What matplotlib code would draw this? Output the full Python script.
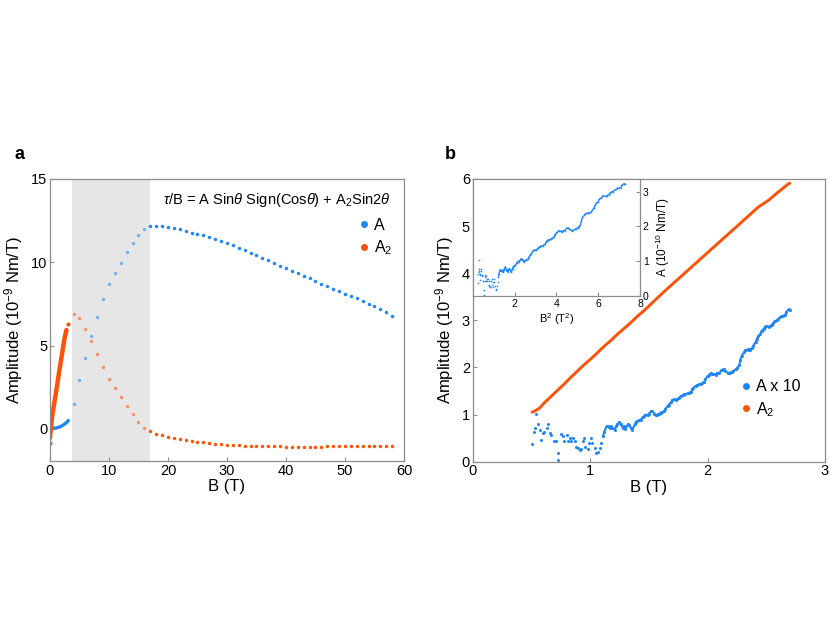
import numpy as np
import matplotlib.pyplot as plt
from matplotlib.lines import Line2D

plt.rcParams['font.family'] = ['Liberation Sans', 'DejaVu Sans']
plt.rcParams['mathtext.fontset'] = 'custom'
plt.rcParams['mathtext.rm'] = 'Liberation Sans'
plt.rcParams['mathtext.it'] = 'Liberation Sans:italic'

BLUE = '#1f87f5'
ORANGE = '#ff5208'
SPINE = '#8c8c8c'

# panel a: high field, one point per tesla
hf_B = np.arange(4, 59)
hf_A = [1.52, 2.92, 4.28, 5.58, 6.72, 7.80, 8.72, 9.38, 9.98, 10.60, 11.16, 11.66, 12.02,
        12.16, 12.20, 12.20, 12.14, 12.06, 11.97, 11.88, 11.78, 11.70, 11.64, 11.53, 11.41,
        11.28, 11.15, 11.01, 10.87, 10.72, 10.57, 10.42, 10.27, 10.11, 9.96, 9.80, 9.65,
        9.49, 9.34, 9.18, 9.03, 8.87, 8.72, 8.57, 8.42, 8.27, 8.12, 7.97, 7.83, 7.68, 7.52,
        7.35, 7.17, 6.99, 6.80]
hf_A2 = [6.92, 6.64, 6.02, 5.26, 4.52, 3.72, 3.02, 2.48, 1.94, 1.40, 0.92, 0.42, 0.06,
         -0.14, -0.28, -0.38, -0.47, -0.54, -0.61, -0.67, -0.72, -0.77, -0.81, -0.85, -0.88,
         -0.91, -0.94, -0.96, -0.98, -1.00, -1.01, -1.02, -1.03, -1.04, -1.05, -1.05, -1.06,
         -1.06, -1.06, -1.06, -1.06, -1.06, -1.06, -1.05, -1.05, -1.05, -1.04, -1.04, -1.03,
         -1.03, -1.02, -1.02, -1.01, -1.01, -1.00]

# panel a: low field (continuous sweep)
lf_B = [0.0, 0.02, 0.05, 0.1, 0.2, 0.3, 0.5, 0.8, 1.0, 1.2, 1.5, 1.8, 2.0, 2.2, 2.4, 2.6, 2.8, 3.0, 3.1]
lf_A = [1.15, 0.95, 0.24, 0.12, 0.07, 0.05, 0.05, 0.04, 0.05, 0.07, 0.10, 0.14, 0.18, 0.22,
        0.27, 0.32, 0.38, 0.45, 0.50]
lf2_B = [0.0, 0.1, 0.2, 0.3, 0.4, 0.5, 0.75, 1.0, 1.25, 1.5, 1.75, 2.0, 2.25, 2.5, 2.8]
lf2_A = [-0.56, -0.2, 0.15, 0.5, 0.8, 1.05, 1.6, 2.15, 2.7, 3.3, 3.85, 4.4, 4.95, 5.5, 5.94]
ex2_B = [0.0, 3.0]
ex2_A = [-0.85, 6.32]

# panel b
b_B = [0.505, 0.52, 0.53, 0.54, 0.56, 0.57, 0.585, 0.60, 0.61, 0.63, 0.64, 0.66, 0.67, 0.69,
       0.71, 0.725, 0.73, 0.755, 0.77, 0.78, 0.80, 0.81, 0.83, 0.84, 0.85, 0.87, 0.88, 0.895,
       0.91, 0.92, 0.94, 0.95, 0.96, 0.98, 0.99, 1.01, 1.02, 1.04, 1.05, 1.065, 1.08, 1.09,
       1.11, 1.12, 1.14, 1.15, 1.165, 1.18, 1.19, 1.21, 1.22, 1.23, 1.25, 1.26, 1.28, 1.29,
       1.30, 1.32, 1.33, 1.35, 1.36, 1.38, 1.39, 1.40, 1.42, 1.43, 1.45, 1.46, 1.47, 1.49,
       1.50, 1.52, 1.53, 1.545, 1.56, 1.57, 1.59, 1.60, 1.615, 1.63, 1.64, 1.66, 1.67, 1.69,
       1.70, 1.71, 1.73, 1.74, 1.76, 1.77, 1.79, 1.80, 1.81, 1.83, 1.84, 1.86, 1.87, 1.88,
       1.90, 1.91, 1.93, 1.94, 1.95, 1.97, 1.98, 2.00, 2.01, 2.03, 2.04, 2.05, 2.07, 2.08,
       2.10, 2.12, 2.14, 2.15, 2.17, 2.18, 2.19, 2.21, 2.22, 2.24, 2.25, 2.27, 2.28, 2.29,
       2.31, 2.32, 2.34, 2.35, 2.36, 2.38, 2.39, 2.41, 2.42, 2.43, 2.45, 2.46, 2.48, 2.49,
       2.50, 2.52, 2.53, 2.55, 2.56, 2.57, 2.59, 2.60, 2.62, 2.63, 2.645, 2.66, 2.67, 2.69, 2.70]
b_A10 = [0.37, 0.62, 0.71, 1.02, 0.79, 0.68, 0.46, 0.61, 0.64, 0.71, 0.79, 0.61, 0.57, 0.43,
         0.43, 0.18, 0.04, 0.59, 0.54, 0.43, 0.57, 0.43, 0.50, 0.43, 0.50, 0.43, 0.32, 0.29,
         0.25, 0.27, 0.43, 0.50, 0.32, 0.27, 0.39, 0.50, 0.39, 0.29, 0.18, 0.21, 0.29, 0.39,
         0.54, 0.64, 0.75, 0.75, 0.71, 0.75, 0.71, 0.68, 0.75, 0.79, 0.84, 0.79, 0.71, 0.75,
         0.69, 0.79, 0.77, 0.71, 0.68, 0.79, 0.84, 0.86, 0.88, 0.89, 0.95, 0.96, 1.00, 0.98,
         1.02, 1.07, 1.07, 1.02, 0.98, 1.00, 1.02, 1.04, 1.05, 1.07, 1.12, 1.18, 1.21, 1.26,
         1.31, 1.32, 1.31, 1.32, 1.36, 1.39, 1.41, 1.43, 1.43, 1.45, 1.46, 1.48, 1.54, 1.57,
         1.61, 1.62, 1.64, 1.64, 1.66, 1.69, 1.75, 1.81, 1.84, 1.88, 1.87, 1.86, 1.85, 1.88,
         1.88, 1.95, 1.96, 1.92, 1.89, 1.88, 1.89, 1.91, 1.93, 1.96, 1.98, 2.05, 2.16, 2.25,
         2.32, 2.36, 2.38, 2.39, 2.38, 2.41, 2.46, 2.54, 2.61, 2.66, 2.71, 2.78, 2.82, 2.86,
         2.88, 2.86, 2.88, 2.91, 2.95, 2.98, 3.00, 3.03, 3.07, 3.09, 3.10, 3.11, 3.18, 3.23, 3.21]
b2_B = [0.505, 0.54, 0.57, 0.61, 0.67, 0.725, 0.78, 0.84, 0.895, 0.95, 1.01, 1.065, 1.12,
        1.18, 1.23, 1.29, 1.35, 1.40, 1.46, 1.52, 1.57, 1.67, 1.76, 1.84, 1.93, 2.01, 2.10,
        2.18, 2.27, 2.35, 2.43, 2.52, 2.60, 2.69, 2.70]
b2_A = [1.05, 1.09, 1.14, 1.25, 1.39, 1.52, 1.65, 1.80, 1.93, 2.06, 2.19, 2.32, 2.45, 2.58,
        2.70, 2.83, 2.96, 3.08, 3.21, 3.35, 3.47, 3.70, 3.90, 4.08, 4.28, 4.46, 4.66, 4.84,
        5.04, 5.22, 5.40, 5.55, 5.72, 5.90, 5.91]

span = (3.7, 17.0)


def style_axes(ax, size=9.5):
    for s in ax.spines.values():
        s.set_color(SPINE)
        s.set_linewidth(0.9)
    ax.tick_params(direction='in', length=3, color=SPINE, labelsize=size, pad=2)


fig = plt.figure(figsize=(8.3, 6.42), dpi=100)

# ---- panel a ----
ax = fig.add_axes([0.0602, 0.2819, 0.4265, 0.4393])
style_axes(ax, 10.5)
ax.axvspan(*span, color='#e6e6e6', lw=0, zorder=0)
hf_B = np.asarray(hf_B)
inside = (hf_B > span[0]) & (hf_B < span[1])
for y, c in [(np.asarray(hf_A), BLUE), (np.asarray(hf_A2), ORANGE)]:
    ax.plot(hf_B[~inside], y[~inside], 'o', ms=2.5, color=c, mew=0)
    ax.plot(hf_B[inside], y[inside], 'o', ms=2.5, color=c, mew=0, alpha=0.55)
ax.plot(lf_B, lf_A, '-', color=BLUE, lw=2.4, solid_capstyle='round')
ax.plot(lf2_B, lf2_A, '-', color=ORANGE, lw=3.2, solid_capstyle='round')
ax.plot(ex2_B, ex2_A, 'o', ms=3, color=ORANGE, mew=0)
ax.set_xlim(0, 60)
ax.set_ylim(-1.93, 15)
ax.set_xticks([0, 10, 20, 30, 40, 50, 60])
ax.set_yticks([0, 5, 10, 15])
ax.set_xlabel('B (T)', fontsize=12, labelpad=1)
ax.set_ylabel('Amplitude (10$^{-9}$ Nm/T)', fontsize=12, labelpad=4)
ax.text(0.962, 0.926, r'$\tau$/B = A Sin$\theta$ Sign(Cos$\theta$) + A$_2$Sin2$\theta$',
        transform=ax.transAxes, ha='right', va='center', fontsize=10.5)
hand = [Line2D([], [], ls='', marker='o', ms=5, color=BLUE, mew=0),
        Line2D([], [], ls='', marker='o', ms=5, color=ORANGE, mew=0)]
ax.legend(hand, ['A', 'A$_2$'], loc='upper right', bbox_to_anchor=(0.985, 0.885),
          frameon=False, handletextpad=0.1, handlelength=1.0, labelspacing=0.35,
          fontsize=11.5, borderaxespad=0)
fig.text(0.018, 0.752, 'a', fontsize=13, fontweight='bold')

# ---- panel b ----
bx = fig.add_axes([0.5695, 0.2809, 0.4245, 0.4403])
style_axes(bx, 10.5)
b_B = np.asarray(b_B)
b_A10 = np.asarray(b_A10)
smooth = b_B >= 1.11
bx.plot(b_B, b_A10, 'o', ms=2.2, color=BLUE, mew=0)
bx.plot(b_B[smooth], b_A10[smooth], '-', lw=1.5, color=BLUE)
bx.plot(b2_B, b2_A, '-', color=ORANGE, lw=2.1, solid_capstyle='round')
bx.set_xlim(0, 3)
bx.set_ylim(0, 6)
bx.set_xticks([0, 1, 2, 3])
bx.set_yticks([0, 1, 2, 3, 4, 5, 6])
bx.set_xlabel('B (T)', fontsize=12, labelpad=1)
bx.set_ylabel('Amplitude (10$^{-9}$ Nm/T)', fontsize=12, labelpad=4)
bx.legend(hand, ['A x 10', 'A$_2$'], loc='lower left', bbox_to_anchor=(0.735, 0.13),
          frameon=False, handletextpad=0.1, handlelength=1.0, labelspacing=0.35,
          fontsize=11.5, borderaxespad=0)
fig.text(0.536, 0.752, 'b', fontsize=13, fontweight='bold')

# inset: A against B^2
ins = fig.add_axes([0.5695, 0.5389, 0.2016, 0.1823])
style_axes(ins, 7.5)
ins.plot(b_B ** 2, b_A10, 'o', ms=1.2, color=BLUE, mew=0)
ins.plot(b_B[smooth] ** 2, b_A10[smooth], '-', lw=0.9, color=BLUE)
ins.set_xlim(0, 8)
ins.set_ylim(0, 3.36)
ins.set_xticks([2, 4, 6, 8])
ins.set_yticks([0, 1, 2, 3])
ins.yaxis.tick_right()
ins.yaxis.set_label_position('right')
ins.tick_params(axis='y', left=False, right=True, labelsize=7.5)
ins.set_xlabel('B$^2$ (T$^2$)', fontsize=8, labelpad=2)
ins.set_ylabel('A (10$^{-10}$ Nm/T)', fontsize=8.5, labelpad=4)

fig.savefig('out.png', dpi=100)
